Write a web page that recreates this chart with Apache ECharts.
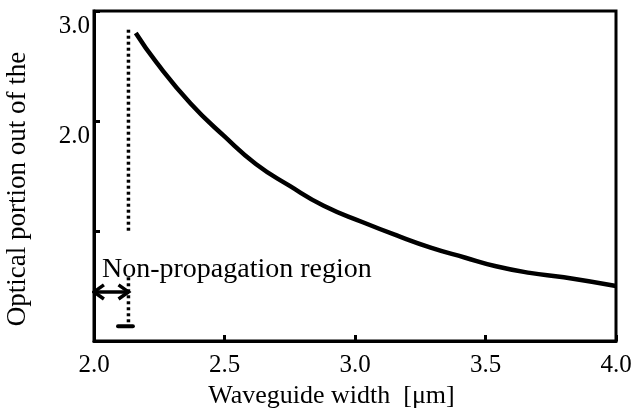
<!DOCTYPE html>
<html>
<head>
<meta charset="utf-8">
<script src="https://cdn.jsdelivr.net/npm/echarts@6/dist/echarts.min.js"></script>
<style>
html,body{margin:0;padding:0;background:#fff;}
#c{width:638px;height:414px;}
</style>
</head>
<body>
<div id="c"></div>
<script>
// Curve data
var widths   = [2.16, 2.24, 2.37, 2.50, 2.62, 2.75, 2.88, 3.03, 3.16, 3.29, 3.42, 3.54, 3.67, 3.80, 4.00];
var portions = [2.80, 2.53, 2.16, 1.86, 1.61, 1.41, 1.23, 1.08, 0.96, 0.85, 0.76, 0.68, 0.62, 0.58, 0.50];

// Cutoff (dotted) line
var cutoffX = 2.132;
var cutoffUpperY = [2.83, 1.0];
var cutoffLowerY = [0.58, 0.136];
var baseDashX = [2.092, 2.149];
var baseDashY = 0.136;

// Arrow for non-propagation region
var arrowX = [2.0, 2.132];
var arrowY = 0.447;
var arrowHeadDx = 0.038;
var arrowHeadDy = 0.064;

// Tick labels
var xTickValues = [2.0, 2.5, 3.0, 3.5, 4.0];
var yLabeledValues = [2, 3];

var regionText = 'Non-propagation region';
var xTitle = 'Waveguide width  [\u03bcm]';
var yTitle = 'Optical portion out of the';

var font = '"Liberation Serif", "DejaVu Serif", serif';

function pairs(xs, ys) { return xs.map(function (x, i) { return [x, ys[i]]; }); }

var chart = echarts.init(document.getElementById('c'), null, {renderer: 'canvas'});
var black = '#000';

var option = {
  animation: false,
  backgroundColor: '#fff',
  grid: {left: 94, right: 22, top: 11, bottom: 72, show: true, borderColor: black, borderWidth: 3, backgroundColor: 'transparent'},
  xAxis: {
    type: 'value', min: 2.0, max: 4.0, interval: 0.5,
    axisLine: {show: true, lineStyle: {color: black, width: 3}},
    axisTick: {show: true, inside: true, length: 6, lineStyle: {color: black, width: 3}},
    splitLine: {show: false},
    axisLabel: {color: black, fontFamily: font, fontSize: 25, margin: 12,
      formatter: function (v) { return xTickValues.indexOf(v) >= 0 ? v.toFixed(1) : ''; }},
    name: xTitle, nameLocation: 'middle', nameGap: 40,
    nameTextStyle: {color: black, fontFamily: font, fontSize: 26, padding: [0, 47, 0, 0]}
  },
  yAxis: {
    type: 'value', min: 0, max: 3, interval: 1,
    axisLine: {show: true, lineStyle: {color: black, width: 3}},
    axisTick: {show: true, inside: true, length: 6, lineStyle: {color: black, width: 3}},
    splitLine: {show: false},
    axisLabel: {color: black, fontFamily: font, fontSize: 25, margin: 4, verticalAlign: 'top', lineHeight: 30,
      formatter: function (v) { return yLabeledValues.indexOf(v) >= 0 ? v.toFixed(1) : ''; }}
  },
  graphic: [
    {type: 'text', left: 102, top: 256, style: {text: regionText, fill: black, font: '28px ' + font}},
    {type: 'text', x: 18, y: 189, rotation: Math.PI / 2,
      style: {text: yTitle, fill: black, font: '27px ' + font, align: 'center', verticalAlign: 'middle'}}
  ],
  series: [
    {type: 'line', data: pairs(widths, portions), smooth: 0.5, showSymbol: false, symbol: 'none',
      lineStyle: {color: black, width: 4.5}},
    {type: 'line', data: [[cutoffX, cutoffUpperY[0]], [cutoffX, cutoffUpperY[1]]], symbol: 'none',
      lineStyle: {color: black, width: 3.5, type: [3, 3]}},
    {type: 'line', data: [[cutoffX, cutoffLowerY[0]], [cutoffX, cutoffLowerY[1]]], symbol: 'none',
      lineStyle: {color: black, width: 3.5, type: [3, 3]}},
    {type: 'line', data: [[baseDashX[0], baseDashY], [baseDashX[1], baseDashY]], symbol: 'none',
      lineStyle: {color: black, width: 4, cap: 'round'}},
    {type: 'line', data: [[arrowX[0], arrowY], [arrowX[1], arrowY]], symbol: 'none',
      lineStyle: {color: black, width: 3.5}},
    {type: 'line', data: [[arrowX[0] + arrowHeadDx, arrowY + arrowHeadDy], [arrowX[0], arrowY], [arrowX[0] + arrowHeadDx, arrowY - arrowHeadDy]],
      symbol: 'none', lineStyle: {color: black, width: 3.5, join: 'miter'}},
    {type: 'line', data: [[arrowX[1] - arrowHeadDx, arrowY + arrowHeadDy], [arrowX[1], arrowY], [arrowX[1] - arrowHeadDx, arrowY - arrowHeadDy]],
      symbol: 'none', lineStyle: {color: black, width: 3.5, join: 'miter'}}
  ]
};
chart.setOption(option);
</script>
</body>
</html>
